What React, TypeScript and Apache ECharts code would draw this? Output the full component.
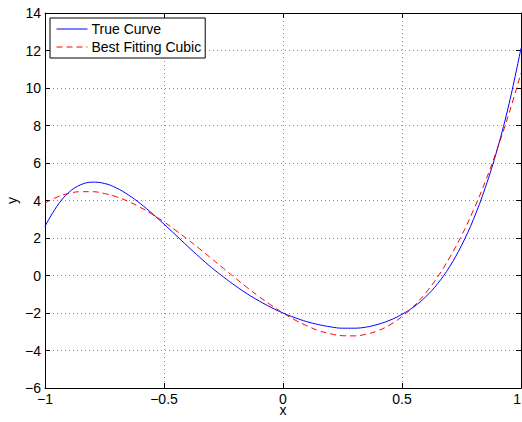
import React, { useEffect, useRef } from "react";
import * as echarts from "echarts";

const xs = [
  -1, -0.95, -0.9, -0.85, -0.8, -0.75, -0.7, -0.65, -0.6, -0.55, -0.5, -0.45, -0.4, -0.35, -0.3, -0.25, -0.2,
  -0.15, -0.1, -0.05, 0, 0.05, 0.1, 0.15, 0.2, 0.25, 0.3, 0.35, 0.4, 0.45, 0.5, 0.55, 0.6, 0.65, 0.7, 0.75,
  0.8, 0.85, 0.9, 0.95, 1,
];
const trueCurve = [
  2.62, 3.69, 4.43, 4.84, 4.98, 4.91, 4.67, 4.3, 3.84, 3.31, 2.74, 2.15, 1.55, 0.97, 0.42, -0.08, -0.55,
  -0.98, -1.36, -1.7, -2.0, -2.25, -2.46, -2.62, -2.74, -2.81, -2.81, -2.75, -2.6, -2.38, -2.07, -1.67,
  -1.13, -0.43, 0.47, 1.6, 2.99, 4.69, 6.72, 9.17, 12.12,
];
const cubicFit = [
  3.86, 4.18, 4.38, 4.47, 4.47, 4.37, 4.2, 3.95, 3.64, 3.27, 2.86, 2.4, 1.92, 1.42, 0.9, 0.38, -0.14,
  -0.65, -1.13, -1.58, -2.0, -2.37, -2.68, -2.94, -3.11, -3.21, -3.22, -3.13, -2.94, -2.63, -2.19, -1.63,
  -0.92, -0.07, 0.95, 2.12, 3.48, 5.01, 6.74, 8.66, 10.8,
];
const seriesNames = ["True Curve", "Best Fitting Cubic"];

const FONT = "'Liberation Sans', Arial, Helvetica, sans-serif";
const fmt = (v: number) => String(v).replace("-", "\u2212");

export default function App() {
  const ref = useRef<HTMLDivElement>(null);
  useEffect(() => {
    if (!ref.current) return;
    const chart = echarts.init(ref.current, null, { renderer: "svg" });
    const tickBase = {
      show: true,
      inside: true,
      length: 5,
      lineStyle: { color: "#000", width: 1 },
    };
    const lineBase = { show: true, onZero: false, lineStyle: { color: "#000", width: 1 } };
    const grid = { lineStyle: { color: "#8a8a8a", width: 1, type: [1, 3] } };
    chart.setOption({
      animation: false,
      backgroundColor: "#fff",
      textStyle: { fontFamily: FONT },
      grid: { left: 45, right: 1, top: 13, bottom: 34, containLabel: false, outerBoundsMode: "none" },
      legend: {
        orient: "vertical",
        left: 50,
        top: 18,
        backgroundColor: "#fff",
        borderColor: "#000",
        borderWidth: 1,
        padding: [4, 4, 4, 6],
        itemGap: 4,
        itemWidth: 31,
        itemHeight: 14,
        itemStyle: { opacity: 0 },
        lineStyle: { width: 1 },
        textStyle: { fontFamily: FONT, fontSize: 14, color: "#000", padding: [0, 0, 0, -1] },
        data: seriesNames,
      },
      xAxis: [
        {
          type: "value",
          min: -1,
          max: 1,
          interval: 0.5,
          name: "x",
          nameLocation: "middle",
          nameGap: 17,
          nameMoveOverlap: false,
          nameTextStyle: { fontFamily: FONT, fontSize: 14, color: "#000", lineHeight: 10 },
          axisLine: lineBase,
          axisTick: tickBase,
          axisLabel: {
            fontFamily: FONT,
            fontSize: 14,
            lineHeight: 12,
            color: "#000",
            margin: 5,
            formatter: fmt,
            alignMaxLabel: "right",
          },
          splitLine: { show: true, ...grid },
        },
        {
          type: "value",
          position: "top",
          min: -1,
          max: 1,
          interval: 0.5,
          axisLine: lineBase,
          axisTick: tickBase,
          axisLabel: { show: false },
          splitLine: { show: false },
        },
      ],
      yAxis: [
        {
          type: "value",
          min: -6,
          max: 14,
          interval: 2,
          name: "y",
          nameLocation: "middle",
          nameGap: 26,
          nameMoveOverlap: false,
          nameTextStyle: { fontFamily: FONT, fontSize: 14, color: "#000" },
          axisLine: lineBase,
          axisTick: tickBase,
          axisLabel: { fontFamily: FONT, fontSize: 14, color: "#000", margin: 4, formatter: fmt },
          splitLine: { show: true, ...grid },
        },
        {
          type: "value",
          position: "right",
          min: -6,
          max: 14,
          interval: 2,
          axisLine: lineBase,
          axisTick: tickBase,
          axisLabel: { show: false },
          splitLine: { show: false },
        },
      ],
      series: [
        {
          name: seriesNames[0],
          type: "line",
          data: xs.map((x, i) => [x, trueCurve[i]]),
          smooth: 0.4,
          symbol: "none",
          lineStyle: { color: "#0000ff", width: 1 },
          itemStyle: { color: "#0000ff" },
          z: 3,
        },
        {
          name: seriesNames[1],
          type: "line",
          data: xs.map((x, i) => [x, cubicFit[i]]),
          smooth: 0.4,
          symbol: "none",
          lineStyle: { color: "#ff0000", width: 1, type: [6, 4] },
          itemStyle: { color: "#ff0000" },
          z: 4,
        },
      ],
    });
    return () => chart.dispose();
  }, []);
  return (
    <div
      ref={ref}
      style={{ position: "fixed", left: 0, top: 0, width: 522, height: 422, background: "#fff" }}
    />
  );
}
